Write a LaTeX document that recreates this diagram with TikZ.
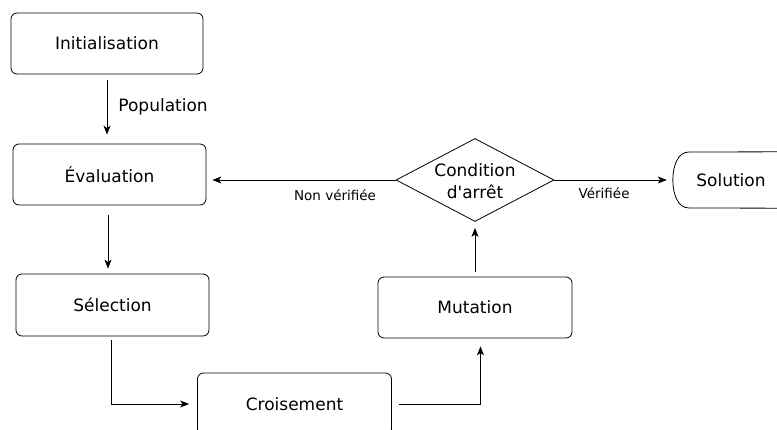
\documentclass[tikz,border=0pt]{standalone}
\usepackage{fontspec}
\setmainfont{DejaVu Sans}[Ligatures=TeXOff]
\usetikzlibrary{arrows.meta,shapes.geometric}
\begin{document}
\begin{tikzpicture}[x=1pt,y=-1pt,
  box/.style={draw,rounded corners=6pt,line width=0.8pt,inner sep=0pt,
    font=\fontsize{17}{22}\selectfont},
  arr/.style={draw,line width=0.8pt,-{Stealth[length=9pt,width=7pt,inset=2.5pt]}},
  lbl/.style={inner sep=0pt,font=\fontsize{13.5}{16}\selectfont},
  big/.style={inner sep=0pt,font=\fontsize{17}{22}\selectfont,align=center}]
\useasboundingbox (0,0) rectangle (777,430);
\clip (0,0) rectangle (777,430);
\node[box,minimum width=192pt,minimum height=61pt] (init) at (107,43.5) {Initialisation};
\node[box,minimum width=193pt,minimum height=61pt] (eval) at (109.5,174.5) {Évaluation};
\node[box,minimum width=193pt,minimum height=62pt] (sel) at (112.5,305) {Sélection};
\node[box,minimum width=194pt,minimum height=62pt] (crois) at (294.5,404) {Croisement};
\node[box,minimum width=194pt,minimum height=61pt] (mut) at (475,307.5) {Mutation};
\node[diamond,draw,line width=0.8pt,minimum width=158pt,minimum height=83pt,inner sep=0pt] (cond) at (475,180) {};
\node[big] (condtxt) at (475,181) {Condition\\d'arrêt};
\node[minimum width=116pt,minimum height=56pt,inner sep=0pt,
  font=\fontsize{17}{22}\selectfont] (sol) at (731,180) {Solution};
\draw[line width=0.8pt] (sol.north east) -- (689,152)
  .. controls (678,152) and (673,165) .. (sol.west)
  .. controls (673,195) and (678,208) .. (689,208) -- (sol.south east);
\draw[arr,shorten <=6pt,shorten >=9pt] (init.south) -- (init.south |- eval.north)
  node[midway,anchor=west,inner sep=0pt,xshift=11pt,yshift=2pt,font=\fontsize{17}{22}\selectfont] {Population};
\draw[arr,shorten <=10pt,shorten >=5pt] ([xshift=-1.5pt]eval.south) -- ([xshift=-1.5pt]eval.south |- sel.north);
\draw[arr,shorten <=4pt,shorten >=8pt] ([xshift=-1.5pt]sel.south) |- (crois.west);
\draw[arr,shorten <=7pt,shorten >=8pt] (crois.east) -| ([xshift=5.5pt]mut.south);
\draw[arr,shorten <=5pt,shorten >=6pt] (mut.north) -- (cond.south);
\draw[arr,shorten >=6pt] (cond.west) -- (cond.west -| eval.east)
  node[lbl,pos=0.32,yshift=-15pt] {Non vérifiée};
\draw[arr,shorten >=6pt] (cond.east) -- (sol.west)
  node[lbl,pos=0.42,yshift=-13pt] {Vérifiée};
\end{tikzpicture}
\end{document}
